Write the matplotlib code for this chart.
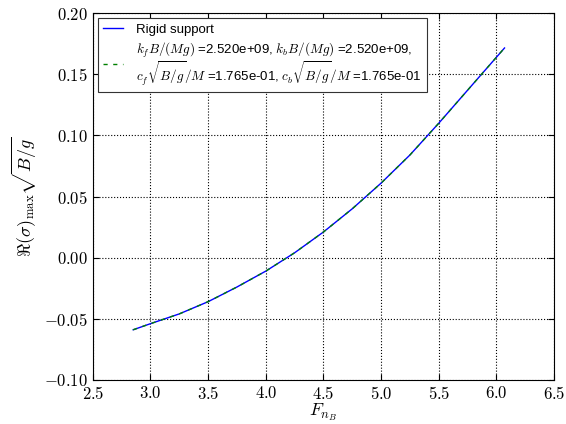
import matplotlib
matplotlib.use("Agg")
import matplotlib.pyplot as plt
from matplotlib.ticker import FormatStrFormatter

plt.rcParams['mathtext.fontset'] = 'cm'
plt.rcParams['font.family'] = 'sans-serif'
plt.rcParams['font.sans-serif'] = ['Liberation Sans', 'DejaVu Sans']

# F_nB vs max growth rate, rigid support and flexible support (same curve)
F_nB = [2.85, 3.0, 3.25, 3.5, 3.75, 4.0, 4.25, 4.5, 4.75, 5.0, 5.25, 5.5, 5.75, 6.07]
sigma_rigid = [-0.059, -0.054, -0.046, -0.036, -0.024, -0.011, 0.004, 0.021,
               0.040, 0.061, 0.084, 0.110, 0.137, 0.1715]
sigma_flex = sigma_rigid[:]

label_rigid = "Rigid support"
label_flex = (r"$k_fB/(Mg)$ =2.520e+09, $k_bB/(Mg)$ =2.520e+09," "\n"
              r"$c_f\sqrt{B/g}/M$ =1.765e-01, $c_b\sqrt{B/g}/M$ =1.765e-01")

fig = plt.figure(figsize=(5.66, 4.24), dpi=100)
ax = fig.add_axes([0.164, 0.104, 0.815, 0.865])
ax.plot(F_nB, sigma_rigid, color='b', lw=1, label=label_rigid)
ax.plot(F_nB, sigma_flex, color='g', lw=1, ls=(0, (3, 4)), label=label_flex)

ax.set_xlim(2.5, 6.5)
ax.set_ylim(-0.10, 0.20)
ax.xaxis.set_major_formatter(FormatStrFormatter(r'$%.1f$'))
ax.yaxis.set_major_formatter(FormatStrFormatter(r'$%.2f$'))
ax.tick_params(direction='in', top=True, right=True, labelsize=12, length=4)
ax.grid(True, color='k', ls=':', lw=0.8)
ax.set_xlabel(r"$F_{n_B}$", fontsize=13, labelpad=0)
ax.set_ylabel(r"$\Re(\sigma)_{\max}\sqrt{B/g}$", fontsize=13)

leg = ax.legend(loc='upper left', fontsize=9.5, fancybox=False, framealpha=1,
                edgecolor='#333333', borderaxespad=0.4, handlelength=1.5,
                handletextpad=1.0, borderpad=0.4, labelspacing=0.4)
leg.get_frame().set_linewidth(0.8)
for t in leg.get_texts():
    t.set_linespacing(0.92)

fig.savefig("out.png", dpi=100)
